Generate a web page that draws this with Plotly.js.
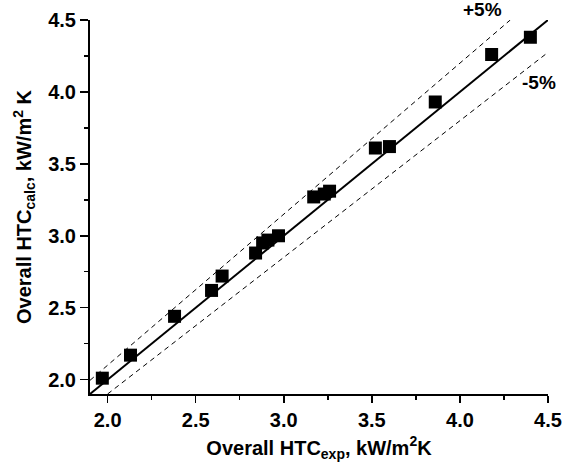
<!DOCTYPE html>
<html>
<head>
<meta charset="utf-8">
<script src="https://cdn.plot.ly/plotly-3.0.1.min.js"></script>
<style>html,body{margin:0;padding:0;background:#fff;}#chart{width:568px;height:462px;}</style>
</head>
<body>
<div id="chart"></div>
<script>
// Experimental vs calculated overall heat transfer coefficient, kW/m2K
const htcExp  = [1.97, 2.13, 2.38, 2.59, 2.65, 2.84, 2.88, 2.91, 2.97, 3.17, 3.23, 3.26, 3.52, 3.60, 3.86, 4.18, 4.40];
const htcCalc = [2.01, 2.17, 2.44, 2.62, 2.72, 2.88, 2.95, 2.97, 3.00, 3.27, 3.29, 3.31, 3.61, 3.62, 3.93, 4.26, 4.38];
const axisRange = [1.9, 4.5];
const bandPct = 5;
const tickVals = [2.0, 2.5, 3.0, 3.5, 4.0, 4.5];
const tickText = ["2.0", "2.5", "3.0", "3.5", "4.0", "4.5"];

const up = 1 + bandPct / 100, dn = 1 - bandPct / 100;
const lo = axisRange[0], hi = axisRange[1];

const font = "Arial, Liberation Sans, sans-serif";

const traces = [
  { x: [lo, hi], y: [lo, hi], mode: "lines", line: {color: "#000", width: 2}, hoverinfo: "skip", showlegend: false },
  { x: [lo, hi / up], y: [lo * up, hi], mode: "lines", line: {color: "#000", width: 1, dash: "5px,4px"}, hoverinfo: "skip", showlegend: false },
  { x: [lo / dn, hi], y: [lo, hi * dn], mode: "lines", line: {color: "#000", width: 1, dash: "5px,4px"}, hoverinfo: "skip", showlegend: false },
  { x: htcExp, y: htcCalc, mode: "markers", marker: {symbol: "square", size: 13, color: "#000", line: {width: 0}}, showlegend: false }
];

const axisCommon = {
  range: axisRange,
  showgrid: false, zeroline: false,
  showline: true, linecolor: "#000", linewidth: 2,
  ticks: "outside", ticklen: 7, tickwidth: 1.5, tickcolor: "#000",
  tickvals: tickVals, ticktext: tickText.map(t => "<b>" + t + "</b>"),
  tickfont: {family: font, size: 20, color: "#000", weight: 700},
  minor: {dtick: 0.25, tick0: 2.0, ticks: "outside", ticklen: 4, tickwidth: 1.5, tickcolor: "#000", showgrid: false},
  fixedrange: true
};

const layout = {
  width: 568, height: 462,
  margin: {l: 90, r: 20, t: 20, b: 68},
  paper_bgcolor: "#fff", plot_bgcolor: "#fff",
  font: {family: font, color: "#000"},
  xaxis: Object.assign({}, axisCommon, {
    title: {text: "<b>Overall HTC<sub>exp</sub>, kW/m<sup>2</sup>K</b>", font: {family: font, size: 20, color: "#000", weight: 700}, standoff: 14}
  }),
  yaxis: Object.assign({}, axisCommon, {
    ticklen: 8,
    title: {text: "<b>Overall HTC<sub>calc</sub>, kW/m<sup>2</sup> K</b>", font: {family: font, size: 20, color: "#000", weight: 700}, standoff: 11}
  }),
  annotations: [
    {x: 0.856, y: 1.028, xref: "paper", yref: "paper", xanchor: "center", yanchor: "middle", text: "<b>+5%</b>", showarrow: false, font: {family: font, size: 19, color: "#000", weight: 700}},
    {x: 0.980, y: 0.832, xref: "paper", yref: "paper", xanchor: "center", yanchor: "middle", text: "<b>-5%</b>", showarrow: false, font: {family: font, size: 19, color: "#000", weight: 700}}
  ]
};

Plotly.newPlot("chart", traces, layout, {displayModeBar: false, staticPlot: true});
</script>
</body>
</html>
